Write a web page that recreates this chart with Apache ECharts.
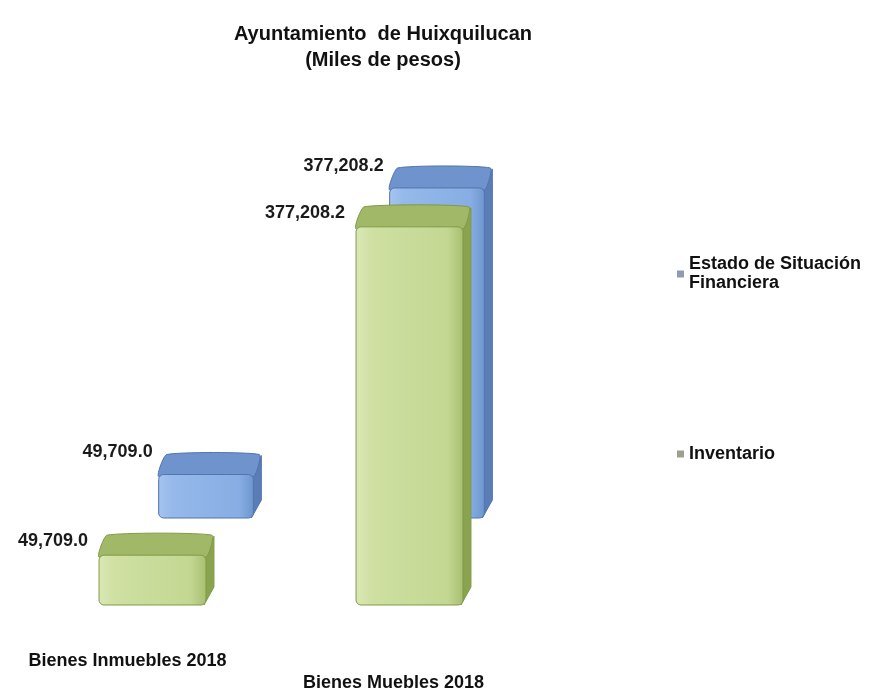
<!DOCTYPE html>
<html>
<head>
<meta charset="utf-8">
<script src="https://cdn.jsdelivr.net/npm/echarts@6/dist/echarts.min.js"></script>
<style>html,body{margin:0;padding:0;background:#fff;}#c{width:879px;height:692px;}</style>
</head>
<body>
<div id="c"></div>
<script>
// ---- data ----
const categories = ['Bienes Inmuebles 2018', 'Bienes Muebles 2018'];
const seriesNames = ['Estado de Situación Financiera', 'Inventario'];
const estadoValues = [49709.0, 377208.2];
const inventarioValues = [49709.0, 377208.2];
const titleLines = ['Ayuntamiento  de Huixquilucan', '(Miles de pesos)'];

const FONT = '"Liberation Sans", Arial, sans-serif';
const DX = 8, DY = 22;

function fmt(v) {
  return v.toLocaleString('en-US', {minimumFractionDigits: 1, maximumFractionDigits: 1});
}

function makeRender(pal, frac, lblDx, lblDy) {
  return function (params, api) {
    const cat = api.value(0), val = api.value(1);
    const top = api.coord([cat, val]);
    const base = api.coord([cat, 0]);
    const bw = api.size([1, 0])[0] * frac;
    const x0 = top[0] - bw / 2, x1 = top[0] + bw / 2;
    const yT = top[1], yB = base[1];
    return {
      type: 'group',
      children: [
        {
          type: 'polygon',
          shape: {points: [[x1 - 2, yT], [x1 + DX, yT - DY + 3], [x1 + DX, yB - DY + 4], [x1 - 2, yB]]},
          style: {fill: pal.side, stroke: pal.edge, lineWidth: 1}
        },
        {
          type: 'polygon',
          shape: {points: [[x0, yT + 2], [x0 + DX, yT - DY + 2], [x1 + DX - 2, yT - DY + 2], [x1, yT + 2]], smooth: 0.15},
          style: {fill: pal.top, stroke: pal.edge, lineWidth: 1}
        },
        {
          type: 'rect',
          shape: {x: x0, y: yT, width: bw, height: yB - yT, r: 5},
          style: {
            fill: new echarts.graphic.LinearGradient(0, 0, 1, 0, [
              {offset: 0, color: pal.f0}, {offset: 0.15, color: pal.f1},
              {offset: 0.85, color: pal.f2}, {offset: 1, color: pal.f3}
            ]),
            stroke: pal.edge, lineWidth: 1
          }
        },
        {
          type: 'text',
          style: {
            text: fmt(val), x: x0 + lblDx, y: yT - DY + lblDy,
            align: 'right', verticalAlign: 'middle',
            font: 'bold 18px ' + FONT, fill: '#1a1a1a'
          }
        }
      ]
    };
  };
}

const bluePal = {f0: '#a6c4ee', f1: '#95b9ea', f2: '#87ade4', f3: '#6f95cf', top: '#6f93cc', side: '#5a7db8', edge: '#5374ad'};
const greenPal = {f0: '#dbe8b6', f1: '#cfe0a2', f2: '#c3d792', f3: '#a7bf70', top: '#a0b868', side: '#8aa34f', edge: '#809b47'};

const chart = echarts.init(document.getElementById('c'), null, {renderer: 'canvas'});
chart.setOption({
  backgroundColor: '#ffffff',
  animation: false,
  title: {
    text: titleLines.join('\n'),
    left: 378, top: 16, textAlign: 'center',
    textStyle: {fontFamily: FONT, fontSize: 20, fontWeight: 'bold', color: '#111', lineHeight: 26, align: 'center'}
  },
  legend: [
    {
      data: [{name: seriesNames[0], itemStyle: {color: '#8e9bb3'}}],
      left: 672, top: 250, orient: 'vertical', icon: 'rect', itemWidth: 7, itemHeight: 7, itemGap: 4,
      formatter: function () { return 'Estado de Situación\nFinanciera'; },
      textStyle: {fontFamily: FONT, fontSize: 18, fontWeight: 'bold', color: '#111', lineHeight: 19}
    },
    {
      data: [{name: seriesNames[1], itemStyle: {color: '#9ba08f'}}],
      left: 672, top: 440, orient: 'vertical', icon: 'rect', itemWidth: 7, itemHeight: 7,
      textStyle: {fontFamily: FONT, fontSize: 18, fontWeight: 'bold', color: '#111'}
    }
  ],
  grid: [
    {left: 90.5, width: 462, bottom: 174, top: 168},
    {left: 24, width: 514, bottom: 87, top: 204}
  ],
  xAxis: [
    {type: 'category', gridIndex: 0, data: categories, show: false},
    {
      type: 'category', gridIndex: 1, data: categories,
      axisLine: {show: false}, axisTick: {show: false},
      axisLabel: {
        margin: 47,
        formatter: function (v, i) { return i === 0 ? '{a|' + v + '}' : '{b|' + v + '}'; },
        rich: {
          a: {fontFamily: FONT, fontSize: 18, fontWeight: 'bold', color: '#111', padding: [0, 50, 0, 0]},
          b: {fontFamily: FONT, fontSize: 18, fontWeight: 'bold', color: '#111', padding: [22, 32, 0, 0]}
        }
      }
    }
  ],
  yAxis: [
    {type: 'value', gridIndex: 0, min: 0, max: 400000, show: false},
    {type: 'value', gridIndex: 1, min: 0, max: 400000, show: false}
  ],
  series: [
    {
      name: seriesNames[0], type: 'custom', xAxisIndex: 0, yAxisIndex: 0, z: 2,
      itemStyle: {color: '#8db4e6'},
      renderItem: makeRender(bluePal, 0.41, -6, 0),
      data: estadoValues.map(function (v, i) { return [i, v]; })
    },
    {
      name: seriesNames[1], type: 'custom', xAxisIndex: 1, yAxisIndex: 1, z: 3,
      itemStyle: {color: '#c4d79b'},
      renderItem: makeRender(greenPal, 0.416, -11, 8),
      data: inventarioValues.map(function (v, i) { return [i, v]; })
    }
  ]
});
</script>
</body>
</html>
